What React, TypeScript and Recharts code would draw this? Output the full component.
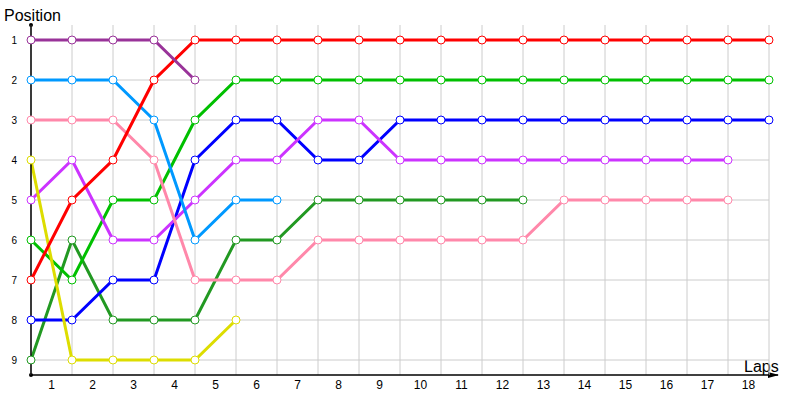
import React from "react";
import {
  LineChart,
  Line,
  XAxis,
  YAxis,
  ReferenceLine,
  Customized,
} from "recharts";

// laps (grid columns) and the labels shown between them
const laps = [0, 1, 2, 3, 4, 5, 6, 7, 8, 9, 10, 11, 12, 13, 14, 15, 16, 17, 18];
const lapLabels = ["1", "2", "3", "4", "5", "6", "7", "8", "9", "10", "11", "12", "13", "14", "15", "16", "17", "18"];
const positions = [1, 2, 3, 4, 5, 6, 7, 8, 9];

// position of each car per lap (index = lap)
const purple = [1, 1, 1, 1, 2];
const red = [7, 5, 4, 2, 1, 1, 1, 1, 1, 1, 1, 1, 1, 1, 1, 1, 1, 1, 1];
const skyBlue = [2, 2, 2, 3, 6, 5, 5];
const pink = [3, 3, 3, 4, 7, 7, 7, 6, 6, 6, 6, 6, 6, 5, 5, 5, 5, 5];
const yellow = [4, 9, 9, 9, 9, 8];
const violet = [5, 4, 6, 6, 5, 4, 4, 3, 3, 4, 4, 4, 4, 4, 4, 4, 4, 4];
const green = [6, 7, 5, 5, 3, 2, 2, 2, 2, 2, 2, 2, 2, 2, 2, 2, 2, 2, 2];
const blue = [8, 8, 7, 7, 4, 3, 3, 4, 4, 3, 3, 3, 3, 3, 3, 3, 3, 3, 3];
const darkGreen = [9, 6, 8, 8, 8, 6, 6, 5, 5, 5, 5, 5, 5];

const series = [
  { key: "darkGreen", values: darkGreen, color: "#229922" },
  { key: "blue", values: blue, color: "#0000ff" },
  { key: "green", values: green, color: "#00c000" },
  { key: "violet", values: violet, color: "#cc33ff" },
  { key: "yellow", values: yellow, color: "#dddd00" },
  { key: "pink", values: pink, color: "#ff88aa" },
  { key: "skyBlue", values: skyBlue, color: "#0099ff" },
  { key: "red", values: red, color: "#ff0000" },
  { key: "purple", values: purple, color: "#993399" },
];

const data = laps.map((lap, i) => {
  const row: Record<string, number | undefined> = { lap };
  series.forEach((s) => {
    row[s.key] = s.values[i];
  });
  return row;
});

const labelTicks = lapLabels.map((_, i) => laps[i] + 0.5);

// axis decorations: arrow on the x axis, dots at the y axis ends, titles
const Decorations = () => (
  <g>
    <path d="M769,375 L778,375" stroke="#000" strokeWidth={1.5} />
    <path d="M768,372 L779,375 L768,378 Z" fill="#000" />
    <circle cx={31} cy={25} r={2} fill="#000" />
    <circle cx={31} cy={375} r={2} fill="#000" />
    <text x={4} y={21} fontSize={16} fill="#000">
      Position
    </text>
    <text x={744} y={372} fontSize={16} fill="#000">
      Laps
    </text>
  </g>
);

const App: React.FC = () => {
  return (
    <div
      style={{
        position: "absolute",
        left: 0,
        top: 0,
        width: 800,
        height: 400,
        background: "#fff",
        fontFamily: "Liberation Sans, Arial, sans-serif",
      }}
    >
      <LineChart
        width={800}
        height={400}
        data={data}
        margin={{ top: 25, right: 0, bottom: 0, left: 0 }}
      >
        <XAxis
          xAxisId="lap"
          dataKey="lap"
          type="number"
          domain={[0, 18]}
          ticks={laps}
          orientation="top"
          height={0}
          tick={false}
          tickLine={false}
          axisLine={false}
        />
        <XAxis
          xAxisId="label"
          type="number"
          domain={[0, 18]}
          ticks={labelTicks}
          tickFormatter={(v: number) => lapLabels[Math.floor(v)]}
          height={25}
          tickLine={false}
          tickSize={3}
          tickMargin={2}
          axisLine={{ stroke: "#000", strokeWidth: 1.5 }}
          tick={{ fill: "#000", fontSize: 12 }}
          interval={0}
        />
        <YAxis
          yAxisId="pos"
          type="number"
          domain={[0.625, 9.375]}
          reversed
          ticks={positions}
          width={31}
          tickLine={false}
          tickSize={12}
          tickMargin={2}
          axisLine={{ stroke: "#000", strokeWidth: 1.5 }}
          tick={{ fill: "#000", fontSize: 10 }}
          interval={0}
        />
        <YAxis
          yAxisId="right"
          orientation="right"
          type="number"
          domain={[0.625, 9.375]}
          reversed
          ticks={positions}
          width={31}
          tickLine={false}
          tickSize={6}
          tickMargin={2}
          axisLine={false}
          tick={{ fill: "#000", fontSize: 10, textAnchor: "start" }}
          interval={0}
        />
        {laps.map((l) => (
          <ReferenceLine
            key={`v${l}`}
            xAxisId="lap"
            yAxisId="pos"
            x={l}
            stroke="#cccccc"
            strokeWidth={1}
          />
        ))}
        {positions.map((p) => (
          <ReferenceLine
            key={`h${p}`}
            xAxisId="lap"
            yAxisId="pos"
            y={p}
            stroke="#cccccc"
            strokeWidth={1}
          />
        ))}
        {series.map((s) => (
          <Line
            key={s.key}
            xAxisId="lap"
            yAxisId="pos"
            dataKey={s.key}
            stroke={s.color}
            strokeWidth={3}
            type="linear"
            dot={{ r: 4, fill: "#fff", stroke: s.color, strokeWidth: 1 }}
            activeDot={false}
            isAnimationActive={false}
          />
        ))}
        <Customized component={Decorations} />
      </LineChart>
    </div>
  );
};

export default App;
